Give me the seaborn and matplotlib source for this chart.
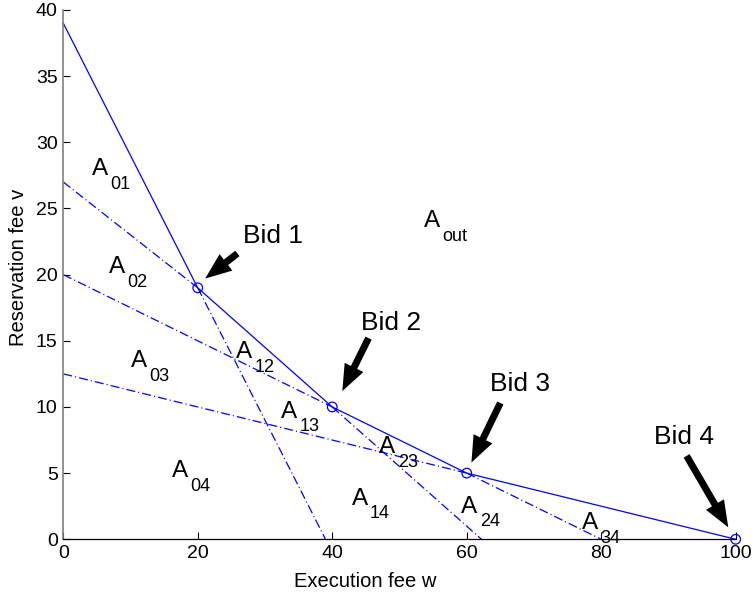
import matplotlib
matplotlib.use("Agg")
import matplotlib.pyplot as plt
import seaborn as sns
import pandas as pd

# bids (execution fee w, reservation fee v)
bid_w = [20, 40, 60, 100]
bid_v = [19, 10, 5, 0]

# solid lower envelope
env_w = [0, 20, 40, 60, 100]
env_v = [39, 19, 10, 5, 0]

# dash-dot extensions of the envelope segments (start -> end)
ext_w0 = [0, 20, 0, 40, 0, 60]
ext_v0 = [27, 19, 20, 10, 12.5, 5]
ext_w1 = [20, 39, 40, 62.2, 60, 80]
ext_v1 = [19, 0, 10, 0, 5, 0]

# region labels A_xx
region_names = ["01", "02", "03", "04", "12", "13", "14", "23", "24", "34", "out"]
region_w = [4.2, 6.8, 10.1, 16.1, 25.7, 32.4, 42.9, 47.0, 59.2, 77.2, 53.7]
region_v = [27.5, 20.1, 13.0, 4.7, 13.7, 9.2, 2.6, 6.5, 2.0, 0.75, 23.6]

# bid annotations
bid_labels = ["Bid 1", "Bid 2", "Bid 3", "Bid 4"]
label_w = [26.8, 44.3, 63.5, 87.8]
label_v = [22.4, 15.8, 11.2, 7.2]
arrow_w0 = [25.9, 45.4, 65.0, 92.7]
arrow_v0 = [21.6, 15.2, 10.3, 6.3]
arrow_w1 = [21.1, 41.5, 60.7, 98.9]
arrow_v1 = [19.7, 11.2, 5.8, 0.9]

sns.set_style("ticks")
plt.rcParams["font.family"] = ["Liberation Sans", "DejaVu Sans"]
plt.rcParams["lines.scale_dashes"] = False
plt.rcParams["text.color"] = "black"
plt.rcParams["axes.labelcolor"] = "black"
plt.rcParams["xtick.color"] = "black"
plt.rcParams["ytick.color"] = "black"

fig = plt.figure(figsize=(7.55, 5.93), dpi=100)
ax = fig.add_axes([0.0838, 0.0906, 0.8906, 0.8926])

sns.lineplot(x=env_w, y=env_v, sort=False, color="blue", lw=0.9, ax=ax)

segs = []
for i in range(len(ext_w0)):
    segs.append({"seg": i, "w": ext_w0[i], "v": ext_v0[i]})
    segs.append({"seg": i, "w": ext_w1[i], "v": ext_v1[i]})
seg_df = pd.DataFrame(segs)
sns.lineplot(data=seg_df, x="w", y="v", units="seg", estimator=None, sort=False,
             color="blue", lw=0.9, linestyle=(0, (6.5, 2.2, 0.8, 2.2)), ax=ax)

sns.scatterplot(x=bid_w, y=bid_v, marker="o", s=48, facecolor="none",
                edgecolor="blue", linewidth=0.9, ax=ax, zorder=3, clip_on=False)

for name, w, v in zip(region_names, region_w, region_v):
    ax.text(w, v, "A", fontsize=17.5, ha="left", va="baseline")
    ax.annotate(name, (w, v), xytext=(13.2, -9.8), textcoords="offset points",
                fontsize=13, ha="left", va="baseline")

for i, lab in enumerate(bid_labels):
    ax.text(label_w[i], label_v[i], lab, fontsize=19, ha="left", va="baseline")
    ax.annotate("", xy=(arrow_w1[i], arrow_v1[i]), xytext=(arrow_w0[i], arrow_v0[i]),
                arrowprops=dict(arrowstyle="simple,head_length=1.9,head_width=1.5,tail_width=0.5",
                                mutation_scale=10, fc="black", ec="none", lw=0,
                                shrinkA=0, shrinkB=0))

ax.set_xlim(0, 100)
ax.set_ylim(0, 40)
ax.set_xticks(range(0, 101, 20))
ax.set_yticks(range(0, 41, 5))
ax.tick_params(direction="in", length=5, width=0.8, labelsize=14, pad=4)
sns.despine(ax=ax)
ax.spines["left"].set_color("#808080")
ax.spines["left"].set_linewidth(1.2)
ax.spines["bottom"].set_color("black")
ax.spines["bottom"].set_linewidth(0.9)

ax.set_xlabel("Execution fee w", fontsize=14.5)
ax.set_ylabel("Reservation fee v", fontsize=14.5)
ax.xaxis.set_label_coords(0.449, -0.062)
ax.yaxis.set_label_coords(-0.0525, 0.513)

fig.savefig("out.png", dpi=100)
